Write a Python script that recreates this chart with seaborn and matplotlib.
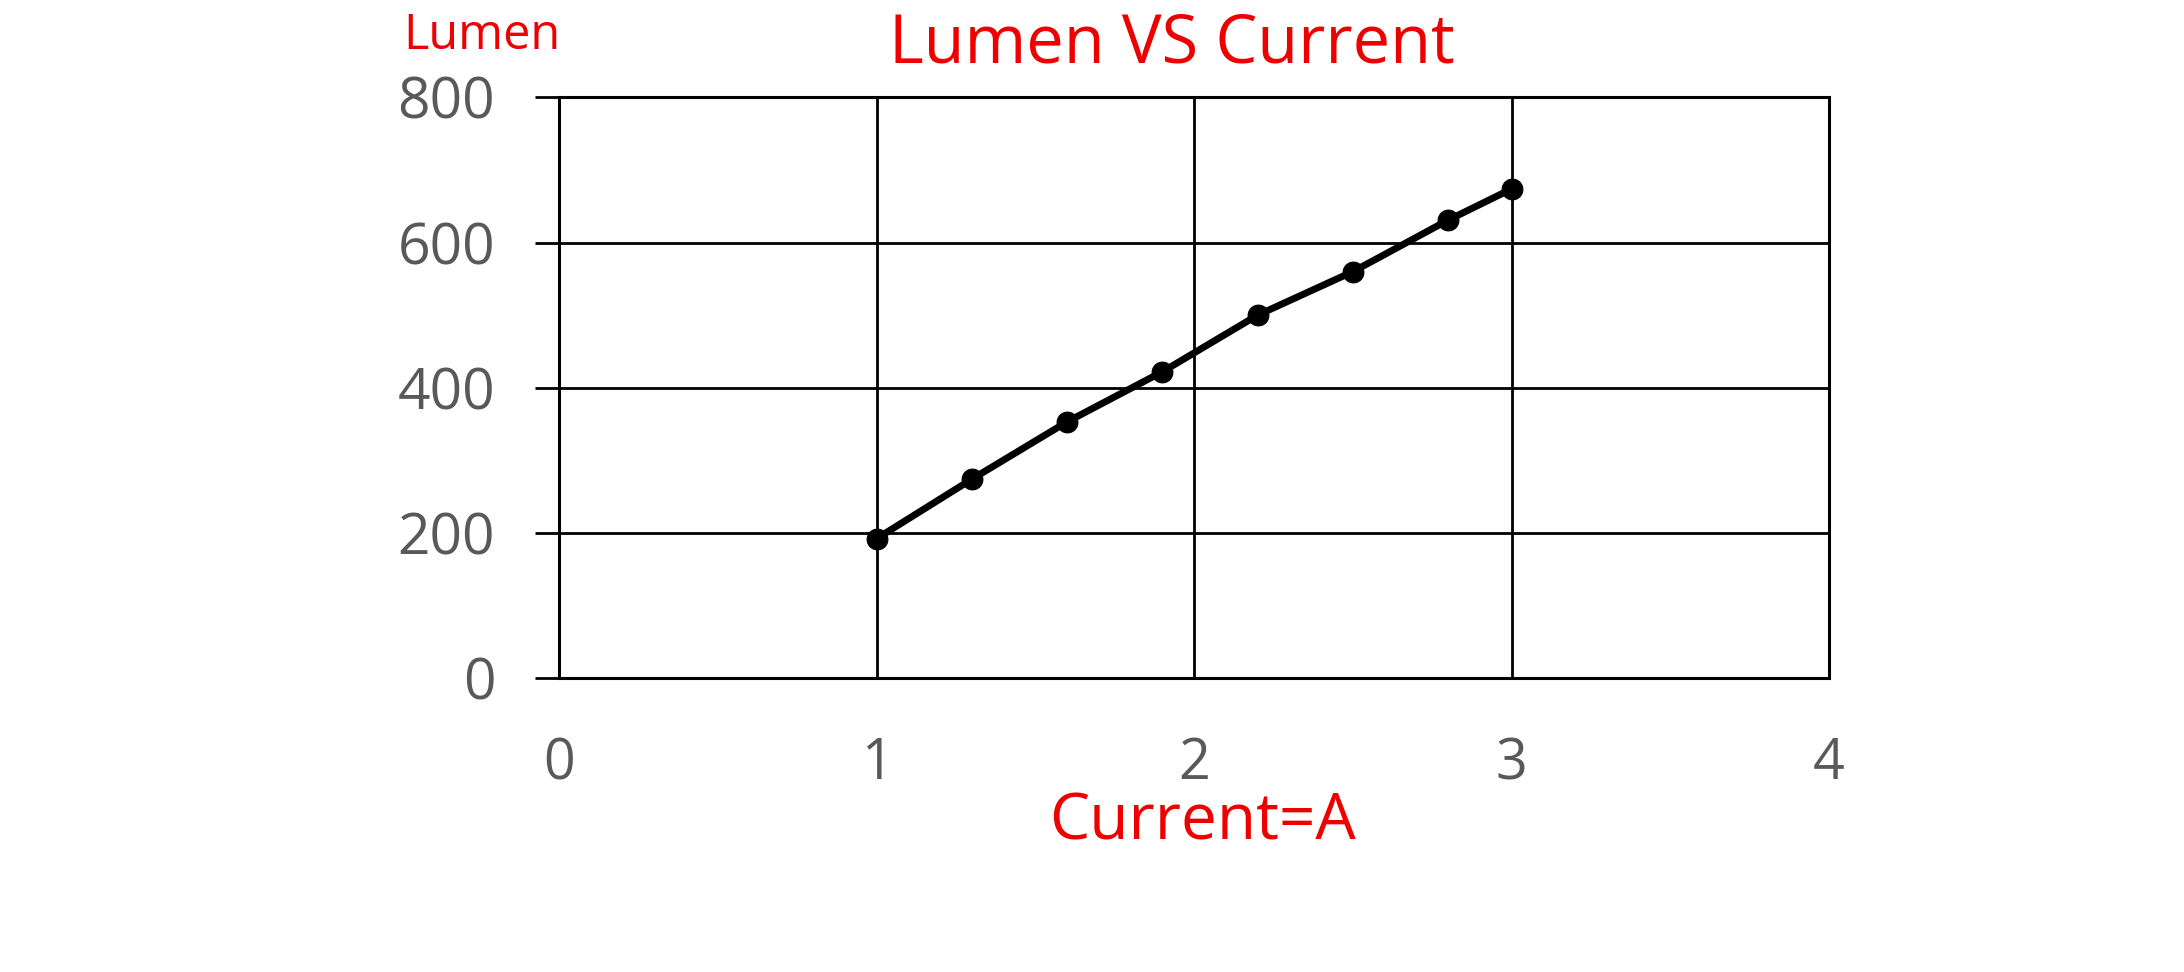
import pandas as pd
import matplotlib
matplotlib.use('Agg')
import matplotlib.pyplot as plt
import seaborn as sns

# values
current_a = [1.0, 1.3, 1.6, 1.9, 2.2, 2.5, 2.8, 3.0]
lumen = [192, 274, 353, 422, 500, 560, 631, 674]
x_ticks = [0, 1, 2, 3, 4]
y_ticks = [0, 200, 400, 600, 800]

df = pd.DataFrame({'Current': current_a, 'Lumen': lumen})

sns.set_style('white')
plt.rcParams['font.family'] = ['Open Sans', 'DejaVu Sans']

fig = plt.figure(figsize=(21.84, 9.72), dpi=100)
ax = fig.add_axes([0.2560, 0.3025, 0.5815, 0.5972])

ax.grid(True, color='black', linewidth=2.0)
ax.set_axisbelow(True)

sns.lineplot(data=df, x='Current', y='Lumen', ax=ax, color='black',
             linewidth=5, marker='o', markersize=15,
             markeredgecolor='black', markerfacecolor='black')

ax.set_xlim(0, 4)
ax.set_ylim(0, 800)
ax.set_xticks(x_ticks)
ax.set_yticks(y_ticks)
ax.set_xlabel('')
ax.set_ylabel('')

for side in ['left', 'right', 'top', 'bottom']:
    ax.spines[side].set_visible(True)
    ax.spines[side].set_color('black')
    ax.spines[side].set_linewidth(2.2)

ax.tick_params(axis='y', length=17, width=2.0, color='black', pad=29,
               labelsize=41, labelcolor='#595959', left=True)
ax.tick_params(axis='x', length=0, pad=42, labelsize=40, labelcolor='#595959')

red = '#ee0000'
fig.text(0.5366, 0.9352, 'Lumen VS Current', ha='center', va='baseline',
         fontsize=48, color=red)
fig.text(0.2207, 0.9496, 'Lumen', ha='center', va='baseline',
         fontsize=35, color=red)
fig.text(0.5508, 0.1360, 'Current=A', ha='center', va='baseline',
         fontsize=46, color=red)

plt.savefig('out.png', dpi=100)
